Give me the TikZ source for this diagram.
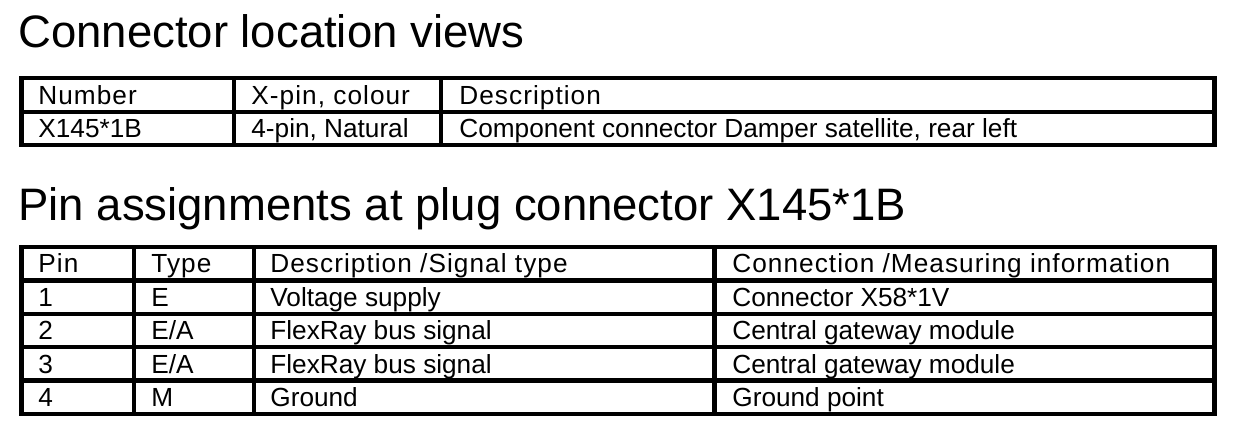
\documentclass[tikz,border=0pt]{standalone}
\usepackage{fontspec}
\setmainfont{Liberation Sans}
\newfontfamily\spacedfont[LetterSpace=4]{Liberation Sans}
\begin{document}
\begin{tikzpicture}[x=0.5pt,y=-0.5pt,
  rule/.style={line width=2.2pt},
  heading/.style={anchor=base west,inner sep=0pt,font=\fontsize{22.75}{27}\selectfont},
  cell/.style={anchor=base west,inner sep=0pt,font=\fontsize{13.1}{16}\selectfont},
  headcell/.style={cell,font=\spacedfont\fontsize{13.1}{16}\selectfont}]
\useasboundingbox (0,0) rectangle (1248,432);

\node[heading] (views) at (18,48) {Connector location views};

\draw[rule] (21.5,78) rectangle (1214.5,145);
\draw[rule] (21.5,112) -- (1214.5,112);
\draw[rule] (234,78) -- (234,145);
\draw[rule] (441,78) -- (441,145);

\node[headcell] (num) at (38,104.5) {Number};
\node[headcell] (xpin) at (251,104.5) {X-pin, colour};
\node[headcell] (descr) at (459,104.5) {Description};
\node[cell] (numval) at (38,138) {X145*1B};
\node[cell] (xpinval) at (251,138) {4-pin, Natural};
\node[cell] (descrval) at (459,138) {Component connector Damper satellite, rear left};

\node[heading] (assign) at (18,221) {Pin assignments at plug connector X145*1B};

\draw[rule] (21.5,247) rectangle (1214.5,414);
\foreach \y in {280.5,314,347,380.5}
  \draw[rule] (21.5,\y) -- (1214.5,\y);
\foreach \x in {134,254,714.5}
  \draw[rule] (\x,247) -- (\x,414);

\node[headcell] (pin0) at (38,273) {Pin};
\node[headcell] (kind0) at (151,273) {Type};
\node[headcell] (desc0) at (270,273) {Description /Signal type};
\node[headcell] (conn0) at (732,273) {Connection /Measuring information};

\foreach \pin/\kind/\desc/\conn [count=\r] in
  {{1}/{E}/{Voltage supply}/{Connector X58*1V},
   {2}/{E/A}/{FlexRay bus signal}/{Central gateway module},
   {3}/{E/A}/{FlexRay bus signal}/{Central gateway module},
   {4}/{M}/{Ground}/{Ground point}}
{
  \pgfmathsetmacro\yb{273+33.4*\r}
  \node[cell] (pin\r) at (38,\yb) {\pin};
  \node[cell] (kind\r) at (151,\yb) {\kind};
  \node[cell] (desc\r) at (270,\yb) {\desc};
  \node[cell] (conn\r) at (732,\yb) {\conn};
}

\end{tikzpicture}
\end{document}
